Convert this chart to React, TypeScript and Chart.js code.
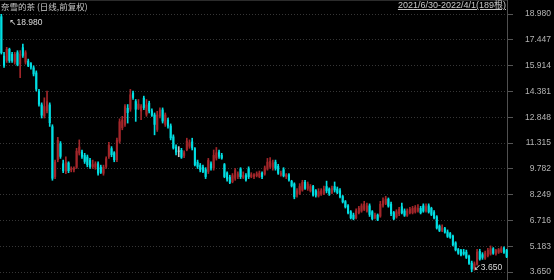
import React, { useEffect, useRef } from 'react';
import { Chart, registerables } from 'chart.js';
Chart.register(...registerables);

const titleText = '奈雪的茶 (日线,前复权)';
const rangeText = '2021/6/30-2022/4/1(189根)';

const yTicks = [18.98, 17.447, 15.914, 14.381, 12.848, 11.315, 9.782, 8.249, 6.716, 5.183, 3.65];

const openP = [
  18.84, 16.5, 16.2, 16.9, 16.6, 16.1, 16.7, 16.0, 17.0, 16.1,
  16.2, 16.05, 15.8, 15.5, 14.4, 13.6, 12.9, 13.2, 13.6, 12.3,
  9.3, 10.3, 11.3, 10.1, 9.6, 10.15, 9.7, 9.7, 9.85, 10.7,
  10.8, 10.6, 10.5, 10.3, 9.9, 9.85, 10.1, 9.9, 9.5, 9.9,
  10.5, 11.0, 10.75, 10.3, 11.4, 12.2, 12.4, 13.4, 13.3, 14.3,
  13.8, 13.35, 13.2, 14.0, 13.0, 13.7, 13.25, 13.0, 12.1, 12.9,
  13.3, 12.4, 12.7, 12.35, 11.7, 11.1, 10.8, 10.9, 10.55, 10.9,
  11.1, 11.4, 11.0, 10.2, 10.0, 9.9, 9.75, 9.6, 10.1, 9.8,
  10.4, 10.8, 10.6, 10.05, 9.55, 9.3, 9.0, 9.2, 9.3, 9.8,
  9.25, 9.4, 9.8, 9.3, 9.3, 9.35, 9.3, 9.55, 9.45, 9.75,
  9.9, 9.85, 10.2, 9.95, 9.4, 9.75, 9.3, 9.45, 9.05, 8.9,
  8.2, 8.3, 8.5, 9.0, 8.6, 8.45, 8.75, 8.5, 8.15, 8.25,
  8.3, 8.75, 8.6, 8.35, 8.75, 8.6, 8.5, 8.15, 7.85, 7.6,
  7.25, 7.05, 6.85, 7.15, 7.25, 7.35, 7.25, 7.6, 7.25, 6.85,
  7.05, 6.95, 7.6, 7.7, 8.0, 7.7, 7.2, 6.9, 7.1, 7.55,
  7.3, 7.0, 7.15, 7.15, 7.2, 7.25, 7.45, 7.6, 7.25, 7.6,
  7.45, 7.2, 6.95, 6.4, 6.1, 6.25, 6.05, 5.95, 5.8, 5.4,
  5.0, 4.95, 4.85, 4.85, 4.6, 4.2, 3.85, 4.1, 4.9, 4.7,
  4.45, 4.6, 4.7, 5.05, 4.7, 4.8, 4.85, 5.1, 4.95
];
const highP = [
  18.98, 16.7, 17.0, 16.95, 16.7, 16.7, 16.8, 16.8, 17.2, 16.8,
  16.3, 16.1, 15.9, 15.6, 14.5, 13.7, 14.0, 14.4, 13.7, 12.4,
  10.3, 11.65, 11.4, 10.3, 10.5, 10.2, 9.9, 9.9, 11.0, 11.5,
  10.9, 10.7, 10.6, 10.4, 10.3, 10.2, 10.2, 10.0, 10.0, 10.5,
  11.35, 11.1, 10.8, 11.6, 12.75, 12.9, 13.6, 13.6, 14.5, 14.4,
  13.9, 13.9, 13.6, 14.1, 13.9, 13.8, 13.35, 13.1, 13.2, 13.4,
  13.4, 13.1, 12.8, 12.45, 11.8, 11.2, 11.1, 11.0, 10.85, 11.6,
  11.5, 11.6, 11.05, 10.3, 10.1, 10.0, 9.85, 10.4, 10.2, 10.9,
  11.05, 10.9, 10.7, 10.1, 9.6, 9.4, 9.5, 9.8, 9.6, 9.85,
  9.6, 9.5, 9.9, 9.55, 9.5, 9.6, 9.65, 9.6, 9.95, 10.4,
  10.45, 10.3, 10.3, 10.05, 9.65, 9.85, 9.5, 9.5, 9.1, 8.95,
  8.6, 8.9, 9.1, 9.1, 9.0, 8.85, 8.8, 8.55, 8.6, 8.6,
  8.75, 9.05, 8.65, 8.75, 9.0, 8.7, 8.6, 8.2, 7.9, 7.65,
  7.3, 7.15, 7.4, 7.55, 7.7, 7.85, 7.75, 7.7, 7.3, 7.15,
  7.1, 7.85, 8.05, 8.15, 8.05, 7.8, 7.25, 7.35, 7.5, 7.75,
  7.4, 7.4, 7.5, 7.55, 7.6, 7.65, 7.55, 7.7, 7.7, 7.7,
  7.5, 7.3, 7.0, 6.45, 6.45, 6.3, 6.15, 6.0, 5.85, 5.45,
  5.05, 5.0, 5.0, 4.95, 4.65, 4.3, 4.25, 5.0, 5.0, 4.8,
  4.9, 5.05, 5.2, 5.1, 5.0, 5.05, 5.15, 5.15, 5.0
];
const lowP = [
  16.6, 15.8, 16.1, 16.1, 16.1, 16.0, 15.9, 15.2, 16.4, 16.0,
  15.85, 15.7, 15.3, 14.4, 13.5, 12.8, 12.8, 13.1, 12.3, 9.1,
  9.2, 10.2, 10.4, 9.55, 9.5, 9.55, 9.6, 9.6, 9.8, 10.6,
  10.4, 10.1, 9.9, 9.8, 9.8, 9.75, 9.4, 9.5, 9.4, 9.8,
  10.4, 10.5, 10.2, 10.2, 11.3, 12.1, 12.3, 12.5, 13.2, 13.9,
  12.6, 13.3, 12.7, 13.3, 12.9, 13.1, 12.9, 11.8, 12.0, 12.8,
  12.5, 12.3, 12.2, 11.5, 10.95, 10.6, 10.5, 10.4, 10.45, 10.85,
  11.0, 10.9, 9.95, 9.8, 9.6, 9.55, 9.2, 9.5, 9.7, 9.7,
  10.3, 10.4, 10.35, 9.25, 9.05, 8.9, 8.95, 9.1, 9.2, 9.2,
  9.2, 9.05, 9.2, 9.25, 9.2, 9.3, 9.25, 9.2, 9.4, 9.7,
  9.8, 9.7, 9.7, 9.45, 9.35, 9.3, 9.2, 9.05, 8.7, 8.0,
  8.1, 8.25, 8.45, 8.55, 8.5, 8.4, 8.15, 8.1, 8.1, 8.2,
  8.25, 8.35, 8.2, 8.3, 8.4, 8.3, 8.05, 7.75, 7.45, 7.1,
  6.8, 6.75, 6.8, 7.1, 7.2, 7.3, 7.2, 6.95, 6.75, 6.8,
  6.7, 6.9, 7.5, 7.65, 7.5, 7.0, 6.75, 6.85, 7.0, 7.1,
  6.95, 6.95, 7.1, 7.1, 7.15, 7.2, 7.1, 7.2, 7.2, 7.15,
  7.0, 6.8, 6.2, 6.05, 6.05, 5.95, 5.7, 5.65, 5.2, 4.9,
  4.7, 4.6, 4.65, 4.45, 4.1, 3.65, 3.75, 4.05, 4.35, 4.4,
  4.4, 4.55, 4.65, 4.7, 4.65, 4.75, 4.8, 4.75, 4.5
];
const closeP = [
  16.66, 15.9, 16.9, 16.2, 16.2, 16.6, 15.95, 16.6, 16.5, 16.7,
  15.9, 15.8, 15.4, 14.5, 13.6, 12.95, 13.5, 13.8, 12.5, 9.2,
  10.2, 11.5, 10.5, 9.65, 10.2, 9.65, 9.8, 9.85, 10.85, 11.1,
  10.5, 10.2, 10.0, 9.9, 10.05, 10.1, 9.5, 9.55, 9.9, 10.4,
  11.2, 10.6, 10.3, 11.5, 12.6, 12.7, 13.5, 13.1, 14.2, 14.0,
  13.3, 13.65, 13.5, 13.4, 13.6, 13.2, 12.95, 12.4, 13.0, 13.3,
  12.6, 13.0, 12.3, 11.6, 11.0, 10.75, 10.8, 10.45, 10.75, 11.45,
  11.35, 11.0, 10.0, 9.9, 9.7, 9.6, 9.3, 10.3, 9.8, 10.6,
  10.75, 10.5, 10.4, 9.3, 9.15, 8.95, 9.4, 9.7, 9.5, 9.3,
  9.4, 9.1, 9.3, 9.45, 9.45, 9.5, 9.55, 9.3, 9.85, 10.2,
  10.25, 10.15, 9.8, 9.5, 9.55, 9.35, 9.45, 9.1, 8.75, 8.1,
  8.5, 8.75, 9.0, 8.6, 8.9, 8.75, 8.2, 8.2, 8.45, 8.5,
  8.6, 8.45, 8.3, 8.65, 8.5, 8.35, 8.1, 7.8, 7.5, 7.15,
  6.85, 6.8, 7.3, 7.45, 7.6, 7.7, 7.6, 7.05, 6.8, 7.05,
  6.75, 7.7, 7.9, 8.0, 7.55, 7.1, 6.8, 7.25, 7.4, 7.15,
  7.0, 7.3, 7.4, 7.45, 7.5, 7.45, 7.15, 7.25, 7.55, 7.2,
  7.05, 6.85, 6.25, 6.1, 6.3, 6.0, 5.75, 5.7, 5.25, 4.95,
  4.75, 4.65, 4.7, 4.5, 4.15, 3.8, 4.15, 4.85, 4.4, 4.5,
  4.8, 4.95, 5.05, 4.75, 4.95, 5.0, 5.05, 4.8, 4.55
];

const UP = '#a3262a';
const DOWN = '#00dfe3';
const FLAT = '#c8c8c8';

export default function App() {
  const ref = useRef<HTMLCanvasElement>(null);

  useEffect(() => {
    document.body.style.margin = '0';
    document.body.style.background = '#000';
    const labels = openP.map((_, i) => String(i));
    const colors = openP.map((o, i) => (closeP[i] > o ? UP : closeP[i] < o ? DOWN : FLAT));

    const frame = {
      id: 'frame',
      beforeDatasetsDraw(chart: any) {
        const { ctx, chartArea } = chart;
        ctx.save();
        ctx.strokeStyle = '#2c2c2c';
        ctx.lineWidth = 1;
        ctx.beginPath();
        ctx.moveTo(0, 0.5);
        ctx.lineTo(chartArea.right, 0.5);
        ctx.stroke();
        ctx.strokeStyle = '#505050';
        ctx.beginPath();
        ctx.moveTo(chartArea.right - 0.5, 0);
        ctx.lineTo(chartArea.right - 0.5, chart.height);
        ctx.stroke();
        ctx.restore();
      },
      afterDatasetsDraw(chart: any) {
        const { ctx } = chart;
        const x = chart.scales.x;
        const y = chart.scales.y;
        let hi = 0;
        let lo = 0;
        highP.forEach((v, i) => { if (v > highP[hi]) hi = i; });
        lowP.forEach((v, i) => { if (v < lowP[lo]) lo = i; });
        ctx.save();
        ctx.fillStyle = '#dcdcdc';
        ctx.font = '8.5px "Liberation Sans", Arial, "DejaVu Sans"';
        ctx.textBaseline = 'middle';
        ctx.textAlign = 'left';
        ctx.fillText('↖' + highP[hi].toFixed(3), x.getPixelForValue(hi) + 8, y.getPixelForValue(highP[hi]) + 9);
        ctx.fillText('↙' + lowP[lo].toFixed(3), x.getPixelForValue(lo) + 2, y.getPixelForValue(lowP[lo]) - 4);
        ctx.restore();
      },
    };

    const chart = new Chart(ref.current as HTMLCanvasElement, {
      type: 'bar',
      data: {
        labels,
        datasets: [
          {
            data: openP.map((o, i) => [o, closeP[i]]) as any,
            backgroundColor: colors,
            grouped: false,
            barPercentage: 0.78,
            categoryPercentage: 1,
            minBarLength: 1,
            borderWidth: 0,
          } as any,
          {
            data: lowP.map((l, i) => [l, highP[i]]) as any,
            backgroundColor: colors,
            grouped: false,
            barThickness: 1,
            borderWidth: 0,
          } as any,
        ],
      },
      options: {
        responsive: false,
        animation: false,
        events: [],
        layout: { padding: { top: 14, bottom: 8, left: 0, right: 3 } },
        plugins: { legend: { display: false }, tooltip: { enabled: false } },
        scales: {
          x: { type: 'category', display: false, offset: true, grid: { display: false } },
          y: {
            position: 'right',
            min: 3.65,
            max: 18.98,
            afterBuildTicks: (s: any) => { s.ticks = yTicks.map((v) => ({ value: v })); },
            afterFit: (s: any) => { s.width = 43; },
            grid: { color: '#363636', tickColor: '#555555', tickLength: 5, tickBorderDash: [] },
            border: { display: false, dash: [1, 2] },
            ticks: {
              color: '#b4b4b4',
              font: { size: 8.5, family: '"Liberation Sans", Arial' },
              crossAlign: 'far',
              padding: 2,
              callback: (v: any) => Number(v).toFixed(3),
            },
          } as any,
        },
      },
      plugins: [frame],
    });
    return () => chart.destroy();
  }, []);

  return (
    <div style={{ position: 'relative', width: 554, height: 280, background: '#000', overflow: 'hidden' }}>
      <canvas ref={ref} width={554} height={280} style={{ display: 'block' }} />
      <div style={{ position: 'absolute', left: 1, top: 1, color: '#c8c8c8', fontSize: '8.5px', lineHeight: '11px', fontFamily: '"Noto Sans CJK SC", sans-serif', whiteSpace: 'nowrap' }}>
        {titleText}
      </div>
      <div style={{ position: 'absolute', right: 48, top: 0, color: '#c8c8c8', fontSize: '9px', lineHeight: '11px', fontFamily: '"Liberation Sans", "Noto Sans CJK SC", sans-serif', textDecoration: 'underline', whiteSpace: 'nowrap' }}>
        {rangeText}
      </div>
    </div>
  );
}
